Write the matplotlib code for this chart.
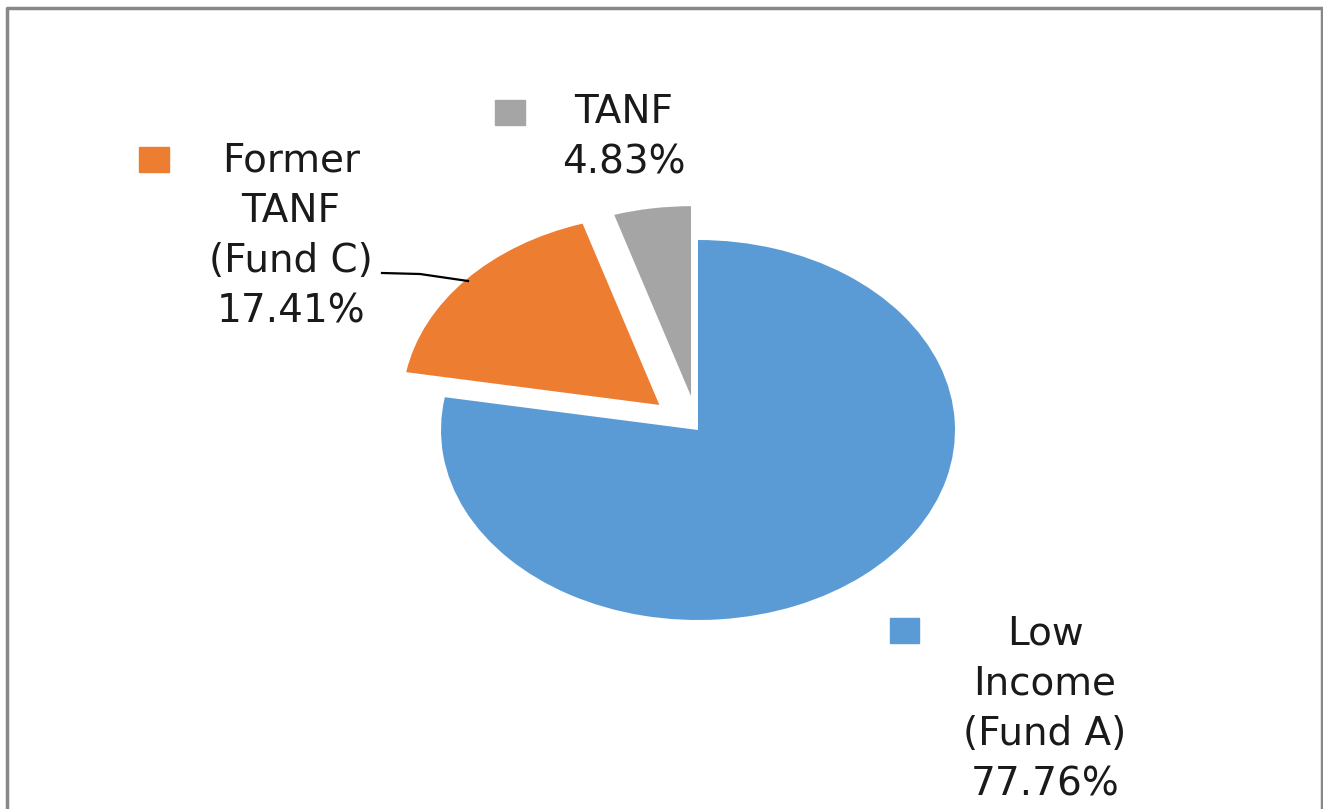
import matplotlib
matplotlib.use("Agg")
import matplotlib.pyplot as plt
from matplotlib.patches import Rectangle
from matplotlib.lines import Line2D

## chart data
labels = ["Low\nIncome\n(Fund A)", "Former\nTANF\n(Fund C)", "TANF"]
values = [77.76, 17.41, 4.83]
colors = ["#5B9BD5", "#ED7D31", "#A5A5A5"]
explode = [0.0, 0.2, 0.18]

W, H = 1323, 809
fig = plt.figure(figsize=(W / 100, H / 100), dpi=100)
ax = fig.add_axes([0, 0, 1, 1])

ax.pie(values, colors=colors, explode=explode, startangle=90,
       counterclock=False, radius=1.0, wedgeprops=dict(linewidth=0))

# stretched pie, centre at (698, 430) px, radii 257 x 190 px
cx, cy, rx, ry = 698, 430, 257, 190
ax.set_aspect("auto")
ax.set_xlim(-cx / rx, (W - cx) / rx)
ax.set_ylim((cy - H) / ry, cy / ry)
ax.axis("off")

def fx(px):
    return px / W

def fy(py):
    return 1 - py / H

# label blocks: (centre x, centre y, key square box)
label_pos = [(1045, 709, (890, 618, 29, 25)),
             (291, 236, (139, 147, 30, 25)),
             (624, 137, (495, 100, 30, 25))]

for lab, val, col, (tx, ty, sq) in zip(labels, values, colors, label_pos):
    fig.text(fx(tx), fy(ty), "%s\n%.2f%%" % (lab, val), ha="center", va="center",
             multialignment="center", fontsize=28, color="#1a1a1a",
             family="DejaVu Sans", linespacing=1.42)
    x0, y0, w, h = sq
    fig.patches.append(Rectangle((fx(x0), fy(y0 + h)), w / W, h / H,
                                 transform=fig.transFigure, color=col))

# leader line for Former TANF label
fig.lines.append(Line2D([fx(382), fx(420), fx(468)], [fy(273), fy(274), fy(281)],
                        transform=fig.transFigure, color="black", lw=1.6))

# chart frame
fig.lines.append(Line2D([fx(7), fx(7), fx(1322), fx(1322)],
                        [fy(H + 5), fy(7.5), fy(7.5), fy(H + 5)],
                        transform=fig.transFigure, color="#888888", lw=2.5))

fig.savefig("out.png", dpi=100)
